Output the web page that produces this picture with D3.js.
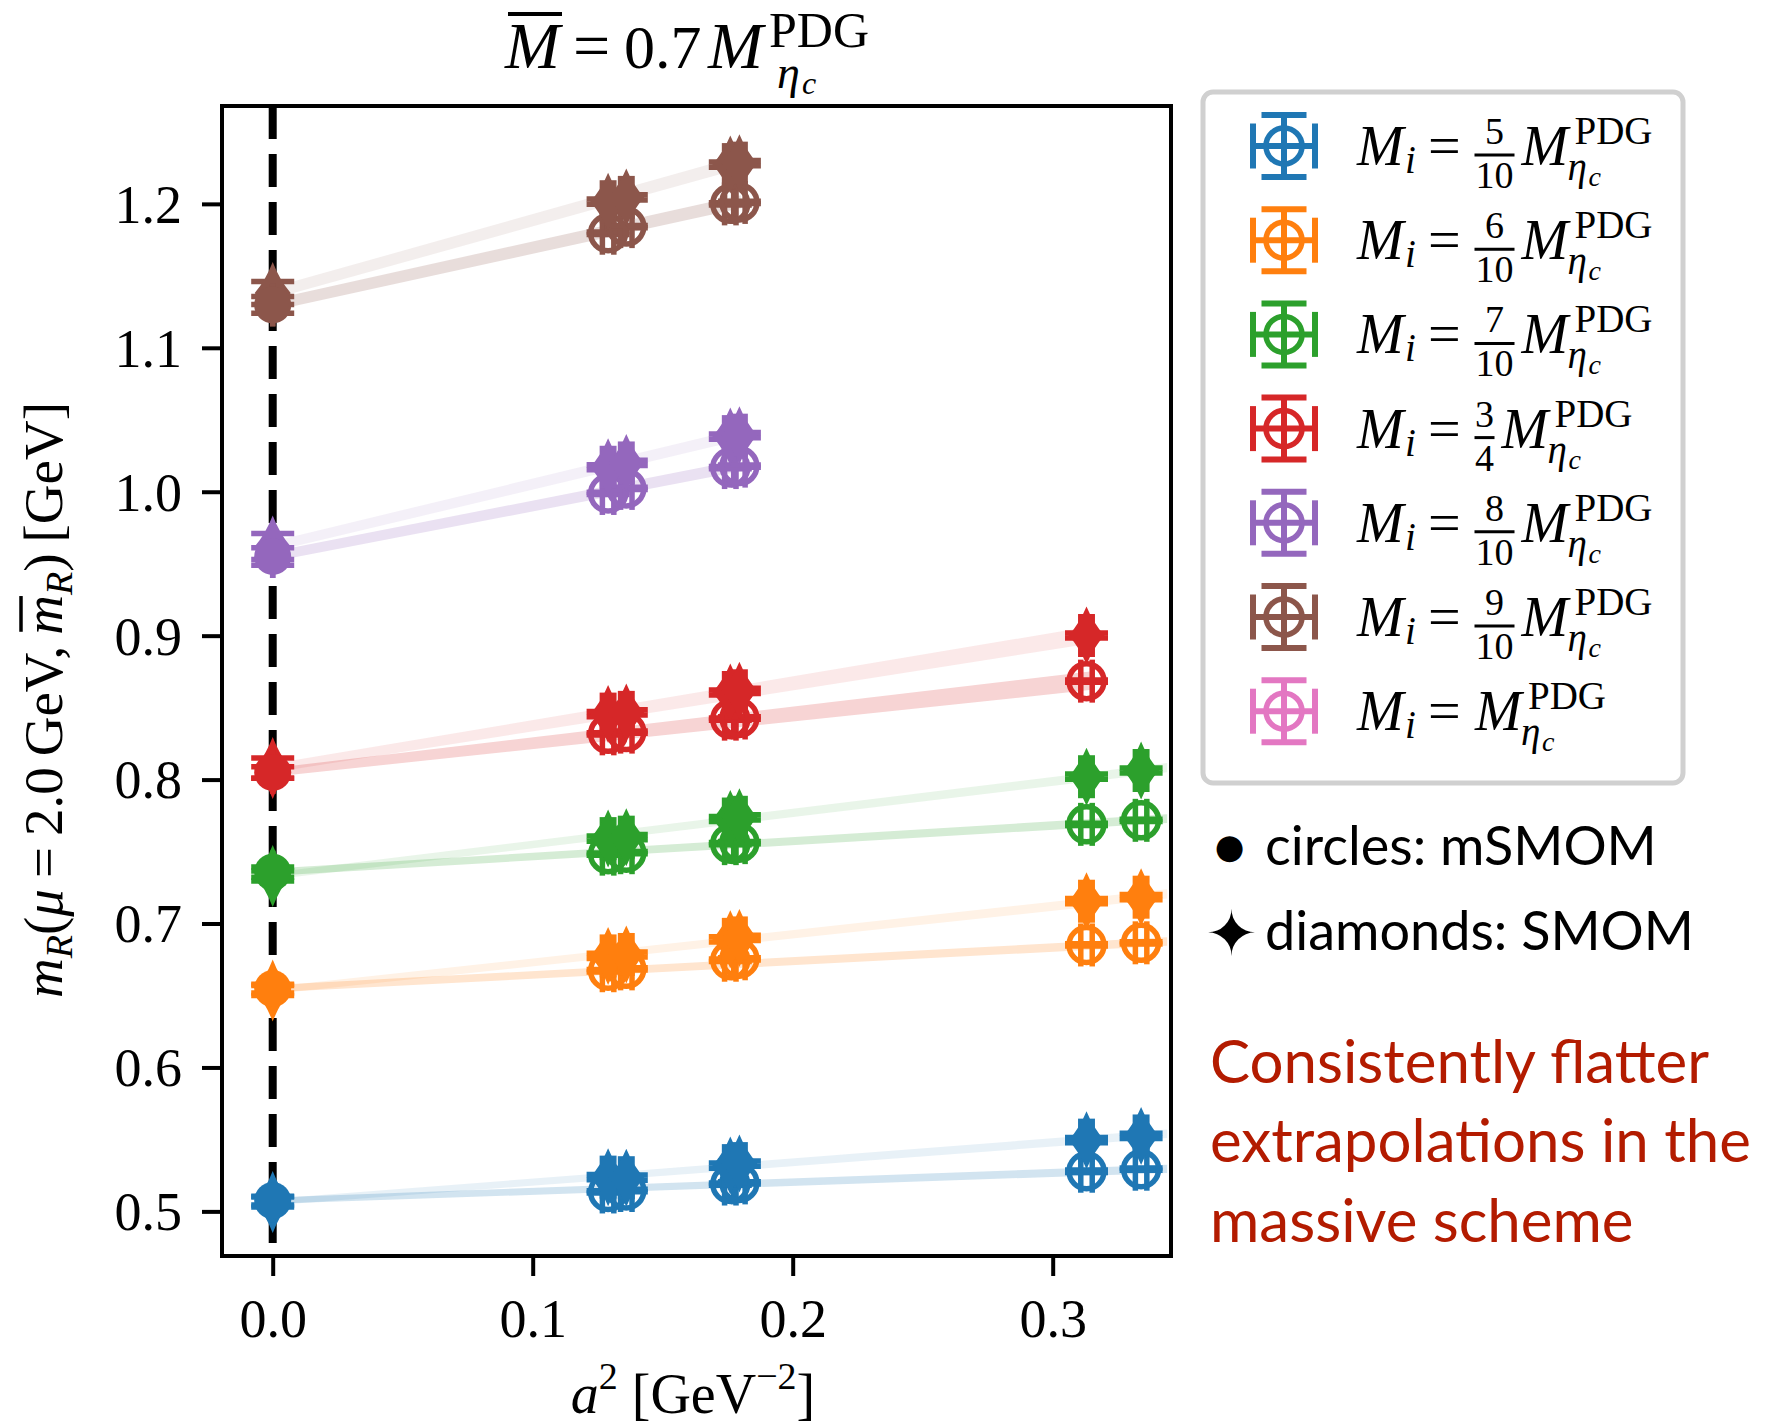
<!DOCTYPE html>
<html>
<head>
<meta charset="utf-8">
<script src="https://cdn.jsdelivr.net/npm/d3@7"></script>
<style>
  body { margin: 0; background: #fff; }
  svg { display: block; }
  .serif { font-family: "Liberation Serif", "Times New Roman", serif; }
  .sans { font-family: Lato, "Open Sans", sans-serif; }
</style>
</head>
<body>
<svg id="chart"></svg>
<script>
// lattice spacings a^2 [GeV^-2] of the ensembles
var a2 = [0.129, 0.136, 0.176, 0.1795, 0.313, 0.334];
var a2Err = [0.0022, 0.0022, 0.0022, 0.0022, 0.0022, 0.0022];

// legend fractions M_i / M_eta_c
var massNum = ["5", "6", "7", "3", "8", "9", ""];
var massDen = ["10", "10", "10", "4", "10", "10", ""];
var colors = ["#1f77b4", "#ff7f0e", "#2ca02c", "#d62728", "#9467bd", "#8c564b", "#e377c2"];

// mSMOM (circles), one row per mass, null = no ensemble
var mSMOM = [
  [0.5135, 0.5145, 0.5190, 0.5198, 0.5279, 0.5293],
  [0.6672, 0.6685, 0.6745, 0.6755, 0.6851, 0.6866],
  [0.7482, 0.7492, 0.7555, 0.7562, 0.7689, 0.7717],
  [0.8318, 0.8330, 0.8420, 0.8428, 0.8684, null],
  [0.9988, 1.0023, 1.0168, 1.0178, null, null],
  [1.1796, 1.1842, 1.2000, 1.2010, null, null],
  [null, null, null, null, null, null]
];
var mSMOMerr = 0.0008;

// SMOM (diamonds)
var SMOM = [
  [0.5238, 0.5234, 0.5318, 0.5332, 0.5495, 0.5524],
  [0.6775, 0.6785, 0.6890, 0.6900, 0.7155, 0.7183],
  [0.7590, 0.7600, 0.7726, 0.7738, 0.8020, 0.8063],
  [0.8455, 0.8467, 0.8605, 0.8617, 0.9001, null],
  [1.0170, 1.0200, 1.0383, 1.0393, null, null],
  [1.2015, 1.2045, 1.2273, 1.2283, null, null],
  [null, null, null, null, null, null]
];
var SMOMerr = 0.0018;

// continuum (a^2 = 0) results
var contM = [0.5075, 0.6548, 0.7357, 0.8050, 0.9550, 1.1298];
var contMerr = [0.003, 0.003, 0.0035, 0.004, 0.006, 0.0058];
var contS = [0.5065, 0.6535, 0.7330, 0.8080, 0.9620, 1.1380];
var contSerr = [0.0035, 0.0035, 0.0035, 0.007, 0.009, 0.008];

// linear fits in a^2 (slope), band half widths at a^2=0 and at the end
var slopeM = [0.064, 0.095, 0.108, 0.2026, 0.351, 0.398];
var slopeS = [0.138, 0.195, 0.219, 0.294, 0.433, 0.506];
var bandM0 = [0.0022, 0.0025, 0.0025, 0.003, 0.0035, 0.004];
var bandM1 = [0.0028, 0.003, 0.003, 0.0065, 0.004, 0.0045];
var bandS0 = [0.0022, 0.0025, 0.0025, 0.003, 0.0035, 0.004];
var bandS1 = [0.003, 0.0032, 0.0032, 0.006, 0.004, 0.0045];
var bandEnd = [0.344, 0.344, 0.344, 0.316, 0.18, 0.18];

var xTicks = [0.0, 0.1, 0.2, 0.3];
var yTicks = [0.5, 0.6, 0.7, 0.8, 0.9, 1.0, 1.1, 1.2];

var width = 1766, height = 1426;
var L = 222, R = 1171, T = 106, B = 1256;

var svg = d3.select("#chart").attr("width", width).attr("height", height);

var x = d3.scaleLinear().domain([-0.0195, 0.3455]).range([L, R]);
var y = d3.scaleLinear().domain([0.469, 1.268]).range([B, T]);

var CAP = 21.5;

svg.append("defs").append("clipPath").attr("id", "clip")
  .append("rect").attr("x", L).attr("y", T).attr("width", R - L).attr("height", B - T);

var plot = svg.append("g").attr("clip-path", "url(#clip)");

// dashed line at a^2 = 0
plot.append("line")
  .attr("x1", x(0)).attr("x2", x(0)).attr("y1", T).attr("y2", B)
  .attr("stroke", "#000").attr("stroke-width", 8)
  .attr("stroke-dasharray", "33,15");

// fit bands
function band(i, c0, slope, h0, h1, op) {
  var end = bandEnd[i];
  var pts = [0, end];
  var area = d3.area()
    .x(d => x(d))
    .y0(d => y(c0 + slope * d - (h0 + (h1 - h0) * d / end)))
    .y1(d => y(c0 + slope * d + (h0 + (h1 - h0) * d / end)));
  plot.append("path").datum(pts)
    .attr("d", area)
    .attr("fill", colors[i]).attr("fill-opacity", op);
}

for (var i = 0; i < 6; i++) {
  band(i, contS[i], slopeS[i], bandS0[i], bandS1[i], 0.1);
  band(i, contM[i], slopeM[i], bandM0[i], bandM1[i], 0.2);
}

function diamondPath(h, w) {
  var k = 0.4;
  return "M0," + (-h) + " Q" + (w * k) + "," + (-h * k) + " " + w + ",0" +
    " Q" + (w * k) + "," + (h * k) + " 0," + h +
    " Q" + (-w * k) + "," + (h * k) + " " + (-w) + ",0" +
    " Q" + (-w * k) + "," + (-h * k) + " 0," + (-h) + "Z";
}

function errorbar(g, d, color) {
  var cx = x(d.x), cy = y(d.y);
  var eb = g.append("g").attr("stroke", color).attr("stroke-width", 5.5).attr("fill", "none");
  eb.append("line").attr("x1", x(d.x - d.xe)).attr("x2", x(d.x + d.xe)).attr("y1", cy).attr("y2", cy);
  eb.append("line").attr("x1", cx).attr("x2", cx).attr("y1", y(d.y - d.ye)).attr("y2", y(d.y + d.ye));
  [d.x - d.xe, d.x + d.xe].forEach(function (v) {
    eb.append("line").attr("x1", x(v)).attr("x2", x(v)).attr("y1", cy - CAP).attr("y2", cy + CAP);
  });
  [d.y - d.ye, d.y + d.ye].forEach(function (v) {
    eb.append("line").attr("x1", cx - CAP).attr("x2", cx + CAP).attr("y1", y(v)).attr("y2", y(v));
  });
}

var marks = svg.append("g");

for (var i = 0; i < 6; i++) {
  var col = colors[i];
  var g = marks.append("g");

  var circ = a2.map((v, j) => ({x: v, y: mSMOM[i][j], xe: a2Err[j], ye: mSMOMerr}))
    .filter(d => d.y !== null);
  var dia = a2.map((v, j) => ({x: v, y: SMOM[i][j], xe: a2Err[j], ye: SMOMerr}))
    .filter(d => d.y !== null);

  circ.forEach(d => errorbar(g, d, col));
  g.selectAll(null).data(circ).enter().append("circle")
    .attr("cx", d => x(d.x)).attr("cy", d => y(d.y)).attr("r", 17.5)
    .attr("fill", "none").attr("stroke", col).attr("stroke-width", 5.5);

  dia.forEach(d => errorbar(g, d, col));
  g.selectAll(null).data(dia).enter().append("path")
    .attr("transform", d => "translate(" + x(d.x) + "," + y(d.y) + ")")
    .attr("d", diamondPath(29, 18)).attr("fill", col);

  // continuum points
  var c0 = {x: 0, y: contM[i], xe: 0, ye: contMerr[i]};
  var s0 = {x: 0, y: contS[i], xe: 0, ye: contSerr[i]};
  errorbar(g, s0, col);
  g.append("path").attr("transform", "translate(" + x(0) + "," + y(s0.y) + ")")
    .attr("d", diamondPath(31, 18)).attr("fill", col);
  errorbar(g, c0, col);
  g.append("circle").attr("cx", x(0)).attr("cy", y(c0.y)).attr("r", 18.5).attr("fill", col);
}

// frame
svg.append("rect").attr("x", L).attr("y", T).attr("width", R - L).attr("height", B - T)
  .attr("fill", "none").attr("stroke", "#000").attr("stroke-width", 4);

// axes
var xAxis = svg.append("g").attr("transform", "translate(0," + B + ")")
  .call(d3.axisBottom(x).tickValues(xTicks).tickFormat(d3.format(".1f")).tickSize(20).tickPadding(23));
var yAxis = svg.append("g").attr("transform", "translate(" + L + ",0)")
  .call(d3.axisLeft(y).tickValues(yTicks).tickFormat(d3.format(".1f")).tickSize(20).tickPadding(20));
[xAxis, yAxis].forEach(function (a) {
  a.select(".domain").remove();
  a.selectAll(".tick line").attr("stroke", "#000").attr("stroke-width", 4);
  a.selectAll(".tick text").attr("font-size", 54).attr("fill", "#000")
    .style("font-family", "'Liberation Serif', serif");
});
yAxis.selectAll(".tick text").attr("dy", "0.34em");

// title
var title = svg.append("g").attr("class", "serif").attr("fill", "#000");
title.append("text").attr("x", 505).attr("y", 68).attr("font-size", 66).attr("font-style", "italic").text("M");
title.append("line").attr("x1", 508).attr("x2", 562).attr("y1", 14).attr("y2", 14)
  .attr("stroke", "#000").attr("stroke-width", 4);
title.append("text").attr("x", 573).attr("y", 68).attr("font-size", 66).text("=");
title.append("text").attr("x", 624).attr("y", 68).attr("font-size", 62).text("0.7");
title.append("text").attr("x", 708).attr("y", 68).attr("font-size", 66).attr("font-style", "italic").text("M");
title.append("text").attr("x", 769).attr("y", 47).attr("font-size", 50).text("PDG");
title.append("text").attr("x", 777).attr("y", 88).attr("font-size", 46).attr("font-style", "italic").text("η");
title.append("text").attr("x", 802).attr("y", 94).attr("font-size", 32).attr("font-style", "italic").text("c");

// x label
var xl = svg.append("text").attr("class", "serif").attr("x", 693).attr("y", 1413)
  .attr("text-anchor", "middle").attr("font-size", 56).attr("fill", "#000");
xl.append("tspan").attr("font-style", "italic").text("a");
xl.append("tspan").attr("font-size", 38).attr("dy", -24).text("2");
xl.append("tspan").attr("dy", 24).text(" [GeV");
xl.append("tspan").attr("font-size", 38).attr("dy", -24).text("−2");
xl.append("tspan").attr("dy", 24).text("]");

// y label
var ylg = svg.append("g").attr("transform", "translate(62,700) rotate(-90)");
var yl = ylg.append("text").attr("class", "serif")
  .attr("text-anchor", "middle").attr("font-size", 55).attr("fill", "#000");
yl.append("tspan").attr("font-style", "italic").text("m");
yl.append("tspan").attr("font-style", "italic").attr("font-size", 38).attr("dy", 10).text("R");
yl.append("tspan").attr("dy", -10).text("(");
yl.append("tspan").attr("font-style", "italic").text("μ");
yl.append("tspan").text("\u2009=\u20092.0\u2009GeV,\u2009");
var mbar = yl.append("tspan").attr("font-style", "italic").text("m");
yl.append("tspan").attr("font-style", "italic").attr("font-size", 38).attr("dy", 10).text("R");
yl.append("tspan").attr("dy", -10).text(")\u2009[GeV]");
var ext = mbar.node().getExtentOfChar(0);
ylg.append("line").attr("x1", ext.x + 3).attr("x2", ext.x + ext.width - 1)
  .attr("y1", ext.y + 8).attr("y2", ext.y + 8)
  .attr("stroke", "#000").attr("stroke-width", 3.5);

// legend
var leg = svg.append("g");
leg.append("rect").attr("x", 1203).attr("y", 92).attr("width", 480).attr("height", 691)
  .attr("rx", 10).attr("fill", "#fff").attr("fill-opacity", 0.8)
  .attr("stroke", "#d0d0d0").attr("stroke-width", 5);

colors.forEach(function (col, i) {
  var cy = 146 + i * 94.2, hx = 1284;
  var h = leg.append("g").attr("stroke", col).attr("stroke-width", 6).attr("fill", "none");
  h.append("line").attr("x1", hx - 31).attr("x2", hx + 31).attr("y1", cy).attr("y2", cy);
  h.append("line").attr("x1", hx).attr("x2", hx).attr("y1", cy - 31).attr("y2", cy + 31);
  [-31, 31].forEach(function (o) {
    h.append("line").attr("x1", hx + o).attr("x2", hx + o).attr("y1", cy - 22.5).attr("y2", cy + 22.5);
    h.append("line").attr("x1", hx - 22.5).attr("x2", hx + 22.5).attr("y1", cy + o).attr("y2", cy + o);
  });
  h.append("circle").attr("cx", hx).attr("cy", cy).attr("r", 18).attr("stroke-width", 5.5);

  var t = leg.append("g").attr("class", "serif").attr("fill", "#000");
  var base = cy + 19;
  t.append("text").attr("x", 1357).attr("y", base).attr("font-size", 56).attr("font-style", "italic").text("M");
  t.append("text").attr("x", 1405).attr("y", base + 8).attr("font-size", 39).attr("font-style", "italic").text("i");
  t.append("text").attr("x", 1428).attr("y", base).attr("font-size", 58).text("=");
  var mx;
  if (massNum[i] !== "") {
    var fw = massDen[i].length > 1 ? 40 : 20;
    var fx = 1474.5 + fw / 2;
    t.append("line").attr("x1", 1474.5).attr("x2", 1474.5 + fw).attr("y1", cy + 9).attr("y2", cy + 9)
      .attr("stroke", "#000").attr("stroke-width", 3);
    t.append("text").attr("x", fx).attr("y", cy - 2).attr("text-anchor", "middle").attr("font-size", 38).text(massNum[i]);
    t.append("text").attr("x", fx).attr("y", cy + 42).attr("text-anchor", "middle").attr("font-size", 38).text(massDen[i]);
    mx = 1474.5 + fw + 7;
  } else {
    mx = 1475;
  }
  t.append("text").attr("x", mx).attr("y", base).attr("font-size", 56).attr("font-style", "italic").text("M");
  t.append("text").attr("x", mx + 53).attr("y", cy - 2).attr("font-size", 39).text("PDG");
  t.append("text").attr("x", mx + 46).attr("y", cy + 34).attr("font-size", 39).attr("font-style", "italic").text("η");
  t.append("text").attr("x", mx + 67).attr("y", cy + 40).attr("font-size", 28).attr("font-style", "italic").text("c");
});

// scheme notes
var notes = svg.append("g").attr("class", "sans").attr("fill", "#000");
notes.append("text").attr("x", 1229.5).attr("y", 846).attr("text-anchor", "middle")
  .attr("dominant-baseline", "central").attr("font-size", 34).style("font-family", "'DejaVu Sans'").text("●");
notes.append("text").attr("x", 1265).attr("y", 865).attr("font-size", 54).text("circles: mSMOM");
notes.append("text").attr("x", 1231.5).attr("y", 933).attr("text-anchor", "middle")
  .attr("dominant-baseline", "central").attr("font-size", 62).style("font-family", "'DejaVu Sans'").text("✦");
notes.append("text").attr("x", 1265).attr("y", 950).attr("font-size", 54).text("diamonds: SMOM");

var msg = ["Consistently flatter", "extrapolations in the", "massive scheme"];
svg.append("g").attr("class", "sans").attr("fill", "#b31b00")
  .selectAll("text").data(msg).enter().append("text")
  .attr("x", 1210).attr("y", (d, i) => 1083 + i * 79.3)
  .attr("font-size", 60).text(d => d);
</script>
</body>
</html>
